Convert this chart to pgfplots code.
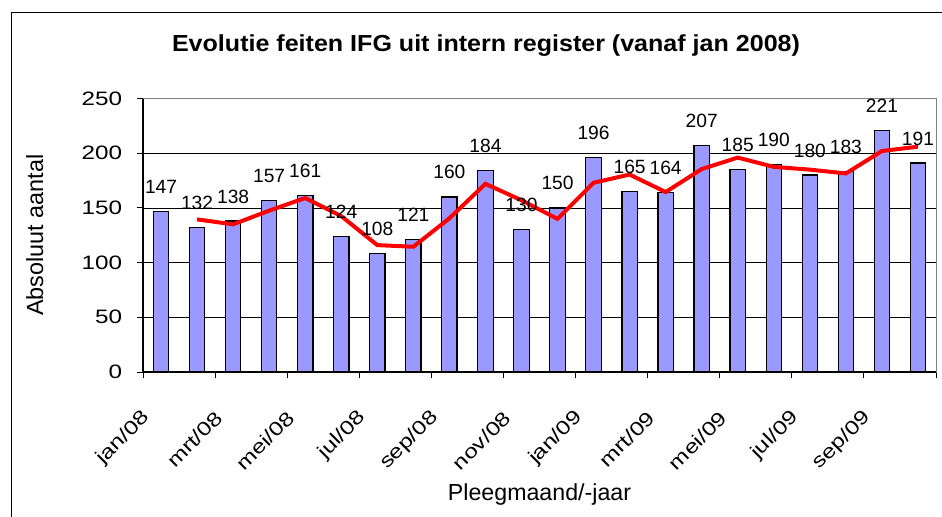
\documentclass[border=0pt]{standalone}
\usepackage{fontspec}
\setmainfont{Liberation Sans}
\newfontfamily\tickfont{Liberation Sans}[FakeStretch=1.25]
\newfontfamily\titlefont{Liberation Sans}[FakeStretch=1.08]
\usepackage{pgfplots}
\usepackage{pgfplotstable}
\pgfplotsset{compat=1.18}
\definecolor{barfill}{RGB}{153,153,255}
\definecolor{plotgray}{RGB}{128,128,128}

\pgfplotstableread{
x y
0 147
1 132
2 138
3 157
4 161
5 124
6 108
7 121
8 160
9 184
10 130
11 150
12 196
13 165
14 164
15 207
16 185
17 190
18 180
19 183
20 221
21 191
}\bardata

\pgfplotstableread{
x y
1 139.5
2 135
3 147.5
4 159
5 142.5
6 116
7 114.5
8 140.5
9 172
10 157
11 140
12 173
13 180.5
14 164.5
15 185.5
16 196
17 187.5
18 185
19 181.5
20 202
21 206
}\avgdata

\begin{document}
\begin{tikzpicture}
\draw[line width=0.6pt] (5.75pt,-262pt) -- (5.75pt,-6.25pt) -- (476pt,-6.25pt);
\node[font=\titlefont\bfseries\fontsize{11.6}{13}\selectfont, anchor=base] at (243pt,-25.5pt) {Evolutie feiten IFG uit intern register (vanaf jan 2008)};
\begin{axis}[
  at={(71.5pt,-186pt)}, anchor=south west,
  scale only axis, width=396.5pt, height=136.75pt,
  xmin=-0.5, xmax=21.5, ymin=0, ymax=250,
  xtick={-0.5,1.5,...,21.5},
  xticklabels={jan/08,mrt/08,mei/08,jul/08,sep/08,nov/08,jan/09,mrt/09,mei/09,jul/09,sep/09,},
  ytick={0,50,...,250},
  xtick pos=bottom, ytick pos=left,
  tick align=outside, major tick length=3.2pt,
  tick style={black, line width=0.5pt},
  /pgf/number format/assume math mode=true,
  ticklabel style={font=\tickfont\fontsize{9.7}{11}\selectfont},
  xticklabel style={inner sep=0pt, xshift=2pt, yshift=-18pt, rotate=45, anchor=east},
  yticklabel style={inner sep=0pt, anchor=east, xshift=-7pt},
  ymajorgrids, grid style={black, line width=0.4pt},
  axis line style={plotgray, line width=0.5pt},
  xlabel={Pleegmaand/-jaar},
  xlabel style={at={(axis description cs:0.5,-0.468)}, anchor=base, font=\fontsize{11.6}{13}\selectfont},
  ylabel={Absoluut aantal},
  ylabel style={at={(axis description cs:-0.126,0.5)}, anchor=base, font=\fontsize{11.7}{13}\selectfont},
  clip=false,
]
\addplot[ybar, bar width=7.7pt, fill=barfill, draw=black, line width=0.6pt,
  nodes near coords,
  every node near coord/.append style={font=\fontsize{9.6}{11}\selectfont, anchor=base, yshift=9pt, inner sep=0pt, black}]
  table[x=x, y=y] {\bardata};
\addplot[red, line width=2pt, mark=none] table[x=x, y=y] {\avgdata};
\draw[plotgray, line width=0.5pt] (rel axis cs:0,1) -- (rel axis cs:1,1) -- (rel axis cs:1,0);
\draw[black, line width=0.6pt] (rel axis cs:0,1) -- (rel axis cs:0,0) -- (rel axis cs:1,0);
\end{axis}
\pgfresetboundingbox
\path[use as bounding box] (0pt,0pt) rectangle (471pt,-258pt);
\end{tikzpicture}
\end{document}
